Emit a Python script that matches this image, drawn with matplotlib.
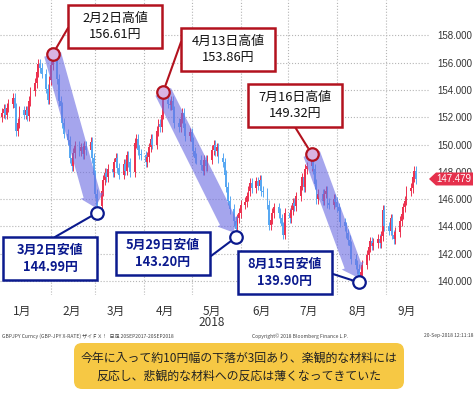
import pandas as pd
import matplotlib
matplotlib.use('Agg')
import matplotlib.pyplot as plt
import matplotlib.dates as mdates
import matplotlib.transforms as mtransforms
from matplotlib.patches import Rectangle, FancyBboxPatch, Polygon

plt.rcParams['font.family'] = ['Noto Sans CJK JP', 'DejaVu Sans']

# GBP/JPY daily closes, weekdays 2018-01-01 .. 2018-09-20
closes = [
    152.3, 152.6, 152.2, 152.7, 153.0,
    153.4, 152.7, 151.0, 151.6, 152.5,
    152.2, 152.5, 152.1, 153.2, 153.9,
    154.5, 155.3, 155.9, 155.6, 155.2,
    154.1, 153.3, 154.7, 155.8, 156.2,
    154.8, 153.2, 152.8, 151.6, 150.8,
    150.3, 149.0, 148.4, 149.4, 149.9,
    149.5, 149.8, 149.3, 149.9, 149.6,
    150.2, 149.0, 147.8, 146.4, 145.5,
    146.6, 147.4, 147.9, 147.6, 148.2,
    148.0, 148.7, 149.0, 148.3, 147.8,
    148.6, 148.1, 149.2, 148.7, 148.0,
    150.1, 150.4, 149.6, 149.3, 149.2,
    148.7, 149.1, 149.8, 150.4, 150.0,
    151.0, 151.5, 151.3, 152.2, 153.3,
    153.0, 152.9, 153.2, 152.5, 151.6,
    151.3, 151.9, 152.3, 151.2, 150.6,
    150.9, 150.2, 149.5, 149.0, 148.9,
    148.5, 148.1, 148.9, 148.4, 148.9,
    149.6, 150.0, 149.5, 149.8, 149.0,
    148.7, 147.8, 146.9, 145.9, 145.3,
    144.4, 143.8, 144.6, 145.0, 145.6,
    145.8, 146.2, 146.6, 147.2, 146.8,
    147.3, 147.0, 147.4, 146.6, 146.5,
    145.6, 144.1, 144.5, 145.0, 145.4,
    145.0, 144.6, 144.0, 143.4, 145.0,
    144.6, 145.2, 145.7, 145.5, 146.2,
    147.0, 147.6, 146.9, 148.2, 148.4,
    149.0, 148.2, 147.1, 146.0, 146.4,
    145.9, 146.4, 146.6, 145.7, 145.6,
    146.0, 145.8, 145.4, 145.1, 144.3,
    144.0, 143.5, 143.0, 142.6, 141.6,
    141.2, 140.9, 140.4, 140.7, 141.2,
    141.9, 142.5, 142.9, 142.6, 142.8,
    143.1, 142.8, 143.3, 145.2, 144.0,
    143.7, 144.6, 143.4, 143.1, 143.6,
    144.4, 144.9, 145.4, 145.9, 146.6,
    146.8, 147.6, 148.1, 147.479,
]
first_open = 152.0
last_price = 147.479

month_labels = ['1月', '2月', '3月', '4月', '5月', '6月', '7月', '8月', '9月']
year_label = '2018'
price_ticks = [140, 142, 144, 146, 148, 150, 152, 154, 156, 158]

peak_dates = ['2018-02-02', '2018-04-13', '2018-07-16']
peak_values = [156.61, 153.86, 149.32]
peak_names = ['2月2日高値', '4月13日高値', '7月16日高値']
trough_dates = ['2018-03-02', '2018-05-29', '2018-08-15']
trough_values = [144.99, 143.20, 139.90]
trough_names = ['3月2日安値', '5月29日安値', '8月15日安値']

comment = '今年に入って約10円幅の下落が3回あり、楽観的な材料には\n反応し、悲観的な材料への反応は薄くなってきていた'
footer_left = 'GBPJPY Curncy (GBP-JPY X-RATE) ザイＦＸ！  日足 20SEP2017-20SEP2018'
footer_mid = 'Copyright© 2018 Bloomberg Finance L.P.'
footer_right = '20-Sep-2018 12:11:18'

# layout in pixels (top-left origin)
W, H = 476, 393
peak_boxes = [(68, 5), (181, 28), (248, 84)]
peak_anchor = [(68, 28), (181, 42), (295, 127)]
trough_boxes = [(3, 237), (116, 232), (238, 251)]
trough_anchor = [(55, 237), (211, 256), (333, 274)]
box_w, box_h = 94, 43

RED = '#b3121e'
NAVY = '#0b1a8e'
UP = '#ec3250'
DOWN = '#58a8f2'

fig = plt.figure(figsize=(W / 100, H / 100), dpi=100)
px = mtransforms.Affine2D().scale(1 / W, -1 / H).translate(0, 1) + fig.transFigure

ax = fig.add_axes([0, 1 - 295 / H, 430 / W, 295 / H])

dates = pd.bdate_range('2018-01-01', '2018-09-20')
x = mdates.date2num(dates)
opens = [first_open] + closes[:-1]
for xi, o, c in zip(x, opens, closes):
    col = UP if c >= o else DOWN
    lo, hi = min(o, c), max(o, c)
    ax.vlines(xi, lo - 0.35, hi + 0.35, color=col, lw=0.7, zorder=2)
    ax.bar(xi, max(hi - lo, 0.08), bottom=lo, width=1.15, color=col, lw=0, zorder=2)

start = mdates.date2num(pd.Timestamp('2018-01-01'))
ax.set_xlim(start - 1.3, start + 270.9)
ax.set_ylim(138.98, 160.59)

ax.xaxis.set_major_locator(mdates.MonthLocator(bymonth=range(2, 10)))
ax.xaxis.set_major_formatter(plt.NullFormatter())
mid = [mdates.date2num(pd.Timestamp(2018, m, 14)) for m in range(1, 10)]
ax.set_xticks(mid, minor=True)
ax.set_xticklabels(month_labels, minor=True)
ax.tick_params(axis='x', which='both', length=0, pad=7, labelsize=8.5, labelcolor='#333333')

ax.yaxis.tick_right()
ax.set_yticks(price_ticks)
ax.set_yticklabels([f'{v:.3f}' for v in price_ticks], family='Liberation Sans')
ax.tick_params(axis='y', length=0, pad=5, labelsize=7, labelcolor='#333333')

ax.grid(axis='y', ls=':', color='#b5b5b5', lw=0.8)
ax.grid(axis='x', which='major', ls=':', color='#b5b5b5', lw=0.8)
for s in ax.spines.values():
    s.set_visible(False)

yr = mtransforms.blended_transform_factory(ax.transData, px)
ax.text(mdates.date2num(pd.Timestamp('2018-05-14')), 323, year_label, transform=yr,
        ha='center', va='center', fontsize=8.5, color='#333333')

# falling legs
for pd_, pv, td, tv in zip(peak_dates, peak_values, trough_dates, trough_values):
    ax.annotate('', xy=(pd.Timestamp(td), tv), xytext=(pd.Timestamp(pd_), pv),
                arrowprops=dict(arrowstyle='simple,head_length=0.9,head_width=1.7,tail_width=1.25',
                                mutation_scale=10, fc='#6e6ee2', ec='none', alpha=0.62,
                                shrinkA=0, shrinkB=4), zorder=4)

# label boxes
def label_box(name, value, box, anchor, date, color, txt_color, weight):
    bx, by = box
    fig.add_artist(Rectangle((bx, by), box_w, box_h, transform=px, fc='white',
                             ec=color, lw=1.8, zorder=6))
    fig.text(bx + box_w / 2, by + box_h / 2, f'{name}\n{value:.2f}円', transform=px,
             ha='center', va='center', fontsize=9.3, color=txt_color, weight=weight,
             linespacing=1.35, zorder=7)
    ax.annotate('', xy=(pd.Timestamp(date), value), xytext=anchor, textcoords=px,
                arrowprops=dict(arrowstyle='-', color=color, lw=1.5, shrinkA=0, shrinkB=5),
                zorder=5)

for i in range(3):
    label_box(peak_names[i], peak_values[i], peak_boxes[i], peak_anchor[i],
              peak_dates[i], RED, '#111111', 'normal')
    label_box(trough_names[i], trough_values[i], trough_boxes[i], trough_anchor[i],
              trough_dates[i], NAVY, NAVY, 'bold')

ax.plot(pd.to_datetime(peak_dates), peak_values, 'o', ms=9, mfc='#d9b3e3', mec=RED,
        mew=1.6, zorder=6, clip_on=False)
ax.plot(pd.to_datetime(trough_dates), trough_values, 'o', ms=9, mfc='white', mec=NAVY,
        mew=1.6, zorder=6, clip_on=False)

# last price tag (drawn over the 148.000 label, as in the source chart)
tag = mtransforms.blended_transform_factory(px, ax.transData)
hh = 6.5 / 13.65
fig.add_artist(Polygon([(429, last_price), (436, last_price + hh), (473, last_price + hh),
                        (473, last_price - hh), (436, last_price - hh)],
                       closed=True, transform=tag, fc='#e5304c', ec='none', zorder=8))
fig.text(454, last_price, f'{last_price:.3f}', transform=tag, ha='center', va='center',
         fontsize=7, color='white', family='Liberation Sans', zorder=9)

# footer
fig.text(2, 336, footer_left, transform=px, fontsize=3.6, color='#444444', va='center')
fig.text(252, 336, footer_mid, transform=px, fontsize=3.6, color='#444444', va='center')
fig.text(474, 336, footer_right, transform=px, fontsize=3.6, color='#444444',
         va='center', ha='right')

# comment box
fig.add_artist(FancyBboxPatch((74, 343), 330, 46, transform=px,
                              boxstyle='round,pad=0,rounding_size=8',
                              fc='#f6c844', ec='none'))
fig.text(239, 367, comment, transform=px, ha='center', va='center', fontsize=8.6,
         color='#222222', linespacing=1.45)

fig.savefig('out.png', dpi=100)
